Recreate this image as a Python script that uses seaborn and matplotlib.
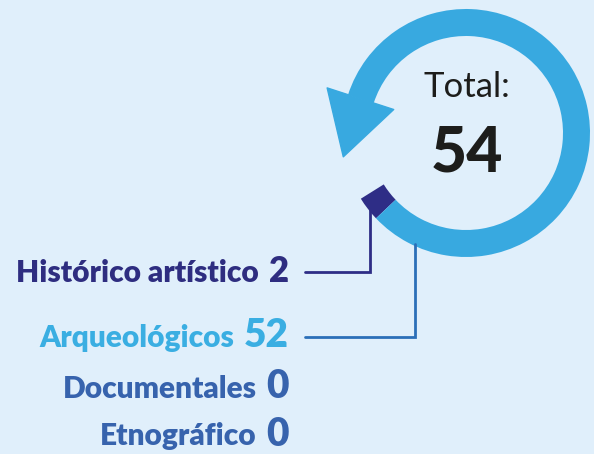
import numpy as np
import seaborn as sns
import matplotlib
matplotlib.use('Agg')
import matplotlib.pyplot as plt
from matplotlib.patches import Wedge, Polygon

# data
categories = ['Histórico artístico', 'Arqueológicos', 'Documentales', 'Etnográfico']
values = [2, 52, 0, 0]
total = sum(values)

ring_colors = ['#2e2d86', '#38a9e0', '#3763ad', '#3763ad']
label_colors = ['#2e2d80', '#3aaee2', '#3763ad', '#3763ad']
line_colors = ['#2e2d86', '#2b6fb8']

sns.set_theme(style='white')
plt.rcParams['font.family'] = ['Lato', 'DejaVu Sans']

bg = '#e0effb'
W, H = 594, 454

fig = plt.figure(figsize=(W / 100, H / 100), dpi=100, facecolor=bg)
ax = fig.add_axes([0, 0, 1, 1])
ax.set_facecolor(bg)
ax.set_xlim(0, W)
ax.set_ylim(H, 0)
ax.set_aspect('equal')
ax.axis('off')

# ring geometry (pixel space, angles measured on screen, counter-clockwise)
cx, cy = 466, 133
r_out, r_in = 124, 97
start = 212
deg_per = 310 / total


def pt(r, a):
    a = np.radians(a)
    return cx + r * np.cos(a), cy - r * np.sin(a)


a0 = start
mids = []
for v, c in zip(values, ring_colors):
    a1 = a0 + v * deg_per
    if v > 0:
        ax.add_patch(Wedge((cx, cy), r_out, -a1, -a0, width=r_out - r_in,
                           facecolor=c, edgecolor='none'))
    mids.append((a0 + a1) / 2)
    a0 = a1

# arrow head at the end of the ring
ae = a0
head = [pt(146, ae), pt(76, ae), pt(125, ae + 29)]
ax.add_patch(Polygon(head, closed=True, facecolor=ring_colors[1],
                     edgecolor=ring_colors[1], linewidth=1, joinstyle='round'))

# centre text
ax.text(cx + 1, 97, 'Total:', ha='center', va='baseline', fontsize=25,
        color='#1d1d1b')
ax.text(cx + 1, 171.5, str(total), ha='center', va='baseline', fontsize=45,
        fontweight='black', color='#1d1d1b')

# labels
baselines = [281.5, 347, 398.5, 445.5]
num_sizes = [25, 28, 28, 28]
num_right = 289
gap = 10
fig.canvas.draw()
renderer = fig.canvas.get_renderer()
for cat, v, c, yb, ns in zip(categories, values, label_colors, baselines, num_sizes):
    t = ax.text(num_right, yb, str(v), ha='right', va='baseline', fontsize=ns,
                fontweight='heavy', color=c)
    bb = t.get_window_extent(renderer)
    ax.text(bb.x0 - gap, yb, cat, ha='right', va='baseline', fontsize=21.5,
            fontweight='heavy', color=c)

# leader lines
ly1 = 272
x1, y1 = pt(r_out - 2, mids[0])
ax.plot([305, x1, x1], [ly1, ly1, y1], color=line_colors[0], lw=2,
        solid_joinstyle='miter')
x2 = 415
y2 = cy + np.sqrt((r_out - 2) ** 2 - (cx - x2) ** 2)
ly2 = 337
ax.plot([305, x2, x2], [ly2, ly2, y2], color=line_colors[1], lw=2,
        solid_joinstyle='miter')

fig.savefig('out.png', dpi=100, facecolor=bg)
